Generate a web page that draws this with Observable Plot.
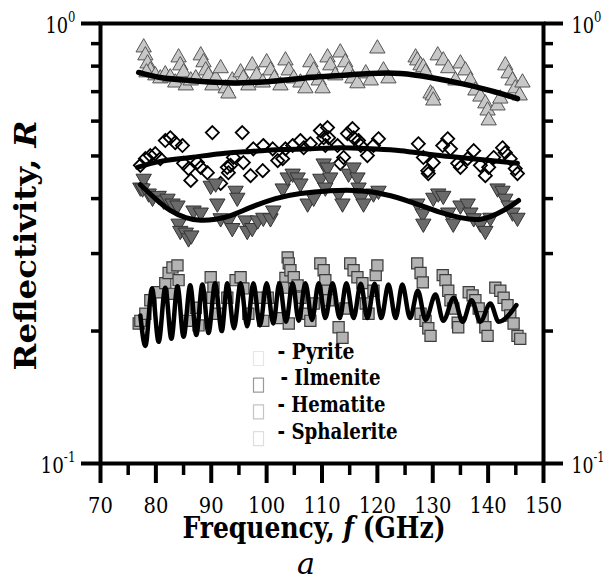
<!DOCTYPE html>
<html>
<head>
<meta charset="utf-8">
<script src="https://cdn.jsdelivr.net/npm/d3@7"></script>
<script src="https://cdn.jsdelivr.net/npm/@observablehq/plot@0.6"></script>
<style>
  html, body { margin: 0; padding: 0; background: #fff; }
  #chart svg, #chart svg text { font-family: "DejaVu Serif", serif; }
</style>
</head>
<body>
<div id="chart"></div>
<script>
// Measured reflectivity of four minerals, 77–146 GHz sweep
const pyriteF = [77.8,78.1,78.5,79.0,78.3,79.9,80.8,81.7,82.6,83.5,84.1,84.4,85.0,85.4,86.3,87.2,88.1,88.6,89.0,89.5,90.2,90.8,91.7,92.6,93.1,93.8,95.3,95.8,96.7,97.4,98.2,99.3,100.0,100.7,101.4,102.5,103.4,104.0,104.9,106.1,107.0,107.9,108.5,109.4,110.1,111.0,111.5,112.4,113.3,114.2,114.8,115.5,116.4,117.9,118.8,120.0,121.1,122.0,126.9,127.2,127.8,128.3,128.7,129.6,130.0,130.1,130.9,131.9,132.8,134.1,135.0,135.9,136.8,137.7,138.6,139.5,139.9,140.1,141.7,142.2,143.1,143.7,144.4,144.9,145.7,146.2];
const pyriteR = [0.882,0.846,0.811,0.782,0.774,0.762,0.750,0.766,0.754,0.734,0.837,0.803,0.774,0.723,0.742,0.750,0.846,0.816,0.782,0.762,0.723,0.750,0.791,0.712,0.693,0.742,0.774,0.750,0.723,0.803,0.762,0.734,0.816,0.782,0.750,0.723,0.824,0.782,0.750,0.734,0.712,0.816,0.782,0.742,0.712,0.837,0.803,0.762,0.859,0.816,0.782,0.750,0.731,0.770,0.742,0.877,0.782,0.750,0.837,0.824,0.803,0.795,0.774,0.693,0.686,0.668,0.846,0.824,0.791,0.742,0.811,0.782,0.742,0.704,0.682,0.658,0.634,0.602,0.651,0.675,0.803,0.770,0.742,0.712,0.686,0.734];

const ilmeniteF = [77.2,78.1,79.0,79.9,80.8,81.7,82.6,83.5,84.8,85.0,85.9,86.3,87.5,88.1,89.3,90.2,91.7,92.9,93.1,93.5,94.0,95.6,95.8,97.1,97.6,99.3,99.4,101.1,102.0,102.9,103.4,104.7,106.1,106.7,107.9,109.7,110.3,111.0,111.2,110.6,112.8,113.3,113.9,114.6,115.5,115.7,116.6,117.0,118.2,119.3,120.2,127.4,128.3,129.1,129.2,130.1,131.8,132.7,133.2,134.5,135.0,136.3,137.4,138.6,139.5,140.1,141.0,142.6,143.1,144.0,144.9,145.3];
const ilmeniteR = [0.476,0.493,0.501,0.506,0.493,0.542,0.550,0.536,0.528,0.481,0.468,0.440,0.483,0.471,0.458,0.565,0.433,0.471,0.458,0.476,0.496,0.565,0.483,0.451,0.519,0.463,0.528,0.519,0.488,0.493,0.519,0.528,0.542,0.522,0.533,0.571,0.550,0.580,0.550,0.528,0.528,0.481,0.496,0.562,0.577,0.550,0.542,0.528,0.501,0.528,0.547,0.533,0.496,0.463,0.456,0.483,0.528,0.547,0.519,0.481,0.471,0.493,0.514,0.476,0.451,0.471,0.496,0.522,0.509,0.493,0.468,0.456];

const hematiteF = [77.2,77.8,77.6,78.7,79.4,80.5,81.4,82.1,83.0,83.9,84.1,84.4,85.4,85.9,86.4,86.8,88.1,89.9,90.8,91.1,91.7,93.1,93.8,94.4,94.7,96.2,96.5,97.4,98.4,99.4,100.7,101.2,102.9,103.8,104.7,105.6,106.1,107.4,108.5,109.7,110.3,111.0,111.5,110.6,113.0,113.7,114.8,115.7,116.4,116.6,117.0,117.5,119.3,120.2,127.2,128.2,128.3,130.1,131.0,131.9,132.8,133.7,135.0,136.3,136.8,137.4,138.6,139.5,140.4,141.7,142.6,143.1,143.7,144.4,145.3];
const hematiteR = [0.424,0.444,0.422,0.411,0.402,0.406,0.396,0.400,0.390,0.386,0.351,0.338,0.335,0.325,0.330,0.376,0.372,0.428,0.433,0.390,0.361,0.357,0.343,0.417,0.402,0.357,0.338,0.343,0.357,0.362,0.361,0.376,0.422,0.447,0.456,0.447,0.433,0.390,0.402,0.444,0.481,0.471,0.447,0.424,0.411,0.390,0.456,0.471,0.447,0.424,0.402,0.390,0.411,0.417,0.390,0.370,0.351,0.402,0.411,0.406,0.372,0.351,0.386,0.390,0.372,0.361,0.351,0.338,0.362,0.422,0.417,0.400,0.386,0.372,0.362];

const sphaleriteF = [76.9,77.2,78.1,79.0,80.3,81.7,82.3,83.0,83.9,84.1,83.2,85.7,87.2,87.7,89.9,90.4,90.2,91.1,92.9,94.4,95.3,95.8,96.7,98.4,99.4,100.2,102.5,103.4,103.0,103.8,104.0,104.3,104.9,105.6,106.1,104.0,107.4,107.9,108.5,109.7,110.3,110.6,111.0,111.2,113.0,113.7,114.2,115.1,115.7,116.4,117.3,117.9,118.4,119.3,119.7,120.0,127.2,127.8,128.2,127.8,128.7,129.2,129.6,131.8,132.3,132.8,133.2,133.7,134.5,134.6,136.5,137.2,137.7,138.3,139.0,139.5,139.9,141.3,142.2,142.8,143.5,144.0,144.6,145.3,145.8];
const sphaleriteR = [0.208,0.211,0.219,0.235,0.245,0.257,0.271,0.279,0.282,0.261,0.243,0.211,0.226,0.206,0.265,0.251,0.238,0.219,0.238,0.261,0.265,0.250,0.219,0.238,0.211,0.238,0.214,0.264,0.251,0.294,0.285,0.275,0.265,0.254,0.238,0.208,0.219,0.211,0.231,0.285,0.275,0.261,0.247,0.235,0.204,0.193,0.225,0.285,0.275,0.265,0.257,0.231,0.219,0.247,0.268,0.282,0.285,0.271,0.258,0.219,0.211,0.203,0.195,0.268,0.261,0.247,0.235,0.225,0.209,0.204,0.245,0.241,0.235,0.225,0.215,0.204,0.195,0.251,0.247,0.238,0.229,0.217,0.208,0.195,0.192];

// Fitted curves
const pyriteFitF = [76.9,80.8,86.3,91.7,97.1,102.5,107.9,113.3,118.8,124.2,129.6,135.0,140.4,145.3];
const pyriteFitR = [0.774,0.754,0.742,0.734,0.734,0.742,0.754,0.762,0.770,0.770,0.754,0.731,0.704,0.675];

const ilmeniteFitF = [76.7,80.8,86.3,91.7,97.1,102.5,107.9,113.3,118.8,124.2,129.6,135.0,140.4,145.3];
const ilmeniteFitR = [0.471,0.486,0.496,0.506,0.512,0.517,0.519,0.522,0.519,0.514,0.504,0.496,0.488,0.481];

const hematiteFitF = [77.2,79.9,82.6,85.4,88.1,90.8,93.5,97.1,101.6,106.1,111.5,117.0,122.4,127.8,131.4,135.0,138.6,141.7,144.0,145.5];
const hematiteFitR = [0.430,0.400,0.376,0.362,0.357,0.359,0.366,0.382,0.400,0.411,0.417,0.417,0.406,0.386,0.372,0.362,0.359,0.370,0.384,0.396];

// Oscillating fit: successive troughs and crests
const sphaleriteFitF = [77.2,78.1,79.3,80.5,81.7,82.8,83.9,85.0,86.2,87.3,88.4,89.5,90.7,91.9,92.9,94.1,95.3,96.5,97.6,98.8,100.0,101.2,102.3,103.5,104.7,105.8,107.0,108.2,109.4,110.6,111.9,113.2,114.4,115.7,117.0,118.2,119.5,120.7,122.0,123.3,124.5,125.9,127.3,128.7,130.5,131.9,133.8,135.4,137.0,138.6,140.4,141.9,145.1];
const sphaleriteFitR = [0.217,0.185,0.250,0.189,0.251,0.192,0.253,0.194,0.254,0.196,0.255,0.198,0.257,0.200,0.257,0.203,0.257,0.205,0.257,0.206,0.257,0.208,0.257,0.210,0.257,0.211,0.257,0.212,0.257,0.214,0.257,0.214,0.257,0.214,0.256,0.214,0.256,0.214,0.255,0.214,0.255,0.214,0.247,0.212,0.242,0.211,0.238,0.210,0.235,0.210,0.231,0.210,0.229];

// Axis ticks
const xTicks = [70, 80, 90, 100, 110, 120, 130, 140, 150];
const xMinorTicks = [75, 85, 95, 105, 115, 125, 135, 145];
const yTicks = [0.1, 1];
const yTickLabels = ["10^-1", "10^0"];
const yMinorTicks = [0.2, 0.3, 0.4, 0.5, 0.6, 0.7, 0.8, 0.9];

// Legend
const legendNames = ["Pyrite", "Ilmenite", "Hematite", "Sphalerite"];
const legendBoxColors = ["#e6e6e6", "#9a9a9a", "#c4c4c4", "#dedede"];

const rows = (F, R) => F.map((f, i) => ({f, R: R[i]}));
const pyrite = rows(pyriteF, pyriteR);
const ilmenite = rows(ilmeniteF, ilmeniteR);
const hematite = rows(hematiteF, hematiteR);
const sphalerite = rows(sphaleriteF, sphaleriteR);

// Downward-pointing triangle symbol
const sqrt3 = Math.sqrt(3);
const triangleDown = {
  draw(context, size) {
    const y = -Math.sqrt(size / (sqrt3 * 3));
    context.moveTo(0, -y * 2);
    context.lineTo(-sqrt3 * y, y);
    context.lineTo(sqrt3 * y, y);
    context.closePath();
  }
};
// Small upright rectangle used as an empty legend key
const keyBox = {
  draw(context) {
    context.rect(-5, -7, 10, 14);
  }
};

const yLabelFormat = d => yTickLabels[yTicks.indexOf(d)];
const blank = () => "";

const marks = [
  // data points
  Plot.dot(pyrite, {x: "f", y: "R", symbol: "triangle", r: 5.7, fill: "#c8c8c8", stroke: "#555", strokeWidth: 1}),
  Plot.dot(ilmenite, {x: "f", y: "R", symbol: "diamond2", r: 5.9, fill: "none", stroke: "#000", strokeWidth: 1.8}),
  Plot.dot(hematite, {x: "f", y: "R", symbol: triangleDown, r: 5.7, fill: "#6a6a6a", stroke: "#333", strokeWidth: 1}),
  Plot.dot(sphalerite, {x: "f", y: "R", symbol: "square", r: 6.3, fill: "#b3b3b3", stroke: "#3c3c3c", strokeWidth: 1.2}),
  // fitted curves
  Plot.line(rows(pyriteFitF, pyriteFitR), {x: "f", y: "R", curve: "natural", stroke: "#000", strokeWidth: 5.5}),
  Plot.line(rows(ilmeniteFitF, ilmeniteFitR), {x: "f", y: "R", curve: "natural", stroke: "#000", strokeWidth: 5}),
  Plot.line(rows(hematiteFitF, hematiteFitR), {x: "f", y: "R", curve: "natural", stroke: "#000", strokeWidth: 5}),
  Plot.line(rows(sphaleriteFitF, sphaleriteFitR), {x: "f", y: "R", curve: "monotone-x", stroke: "#000", strokeWidth: 4.5}),
  // frame and ticks
  Plot.frame({stroke: "#000", strokeWidth: 4}),
  Plot.axisX({ticks: xTicks, tickSize: 20, tickFormat: blank, strokeWidth: 4, label: null}),
  Plot.axisX({ticks: xMinorTicks, tickSize: 12, tickFormat: blank, strokeWidth: 3.5, label: null}),
  Plot.axisX({ticks: xTicks, tickSize: 0, tickPadding: 33, fontSize: 23, label: null, className: "xlab"}),
  Plot.axisY({anchor: "left", ticks: yTicks, tickSize: 19, tickFormat: blank, strokeWidth: 4, label: null}),
  Plot.axisY({anchor: "left", ticks: yMinorTicks, tickSize: 9, tickFormat: blank, strokeWidth: 3.5, label: null}),
  Plot.axisY({anchor: "left", ticks: yTicks, tickSize: 0, tickPadding: 25, dy: 2, tickFormat: yLabelFormat, fontSize: 23, label: null, className: "ylabL"}),
  Plot.axisY({anchor: "right", ticks: yTicks, tickSize: 19, tickFormat: blank, strokeWidth: 4, label: null}),
  Plot.axisY({anchor: "right", ticks: yMinorTicks, tickSize: 9, tickFormat: blank, strokeWidth: 3.5, label: null}),
  Plot.axisY({anchor: "right", ticks: yTicks, tickSize: 0, tickPadding: 28, dy: 2, tickFormat: yLabelFormat, fontSize: 23, label: null, className: "ylabR"}),
  // axis titles and panel letter
  Plot.text(["Frequency, _f_ (GHz)"], {text: d => d, frameAnchor: "bottom", textAnchor: "middle", dx: -8, dy: 74, fontSize: 30, fontWeight: "bold", className: "xtitle"}),
  Plot.text(["Reflectivity, _R_"], {text: d => d, frameAnchor: "left", textAnchor: "middle", dx: -74, dy: 2, rotate: -90, fontSize: 30, fontWeight: "bold", className: "ytitle"}),
  Plot.text(["a"], {text: d => d, frameAnchor: "bottom", textAnchor: "middle", dx: -16, dy: 110, fontSize: 30, fontStyle: "italic", className: "panel"}),
  // legend
  ...legendNames.flatMap((name, i) => [
    Plot.dot([name], {frameAnchor: "bottom-left", dx: 158, dy: -105 + i * 26.7, symbol: keyBox, fill: "none", stroke: legendBoxColors[i], strokeWidth: 1.2}),
    Plot.text([`- ${name}`], {text: d => d, frameAnchor: "bottom-left", dx: name === "Ilmenite" ? 180 : 177, dy: -105 + i * 26.7, textAnchor: "start", fontSize: 22, fontWeight: "bold", className: "legend"})
  ])
];

const chart = Plot.plot({
  width: 611,
  height: 587,
  marginLeft: 100,
  marginRight: 68,
  marginTop: 23,
  marginBottom: 124,
  style: {fontFamily: "DejaVu Serif, serif", fontSize: "23px", color: "#000", background: "#fff", overflow: "visible"},
  x: {domain: [70, 150]},
  y: {type: "log", domain: [0.1, 1]},
  marks
});

// Drop empty tick labels; add superscript exponents (a^b) and italic symbols (_x_)
const SVGNS = "http://www.w3.org/2000/svg";
chart.querySelectorAll("text").forEach(t => {
  const s = t.textContent;
  if (s === "") {
    t.remove();
  } else if (s.includes("^")) {
    const [base, sup] = s.split("^");
    t.textContent = base;
    const ts = document.createElementNS(SVGNS, "tspan");
    ts.setAttribute("dy", "-11");
    ts.setAttribute("font-size", "15");
    ts.textContent = sup;
    t.appendChild(ts);
  } else if (s.includes("_")) {
    const parts = s.split("_");
    t.textContent = "";
    parts.forEach((p, i) => {
      if (!p) return;
      const ts = document.createElementNS(SVGNS, "tspan");
      if (i % 2 === 1) ts.setAttribute("font-style", "italic");
      ts.textContent = p;
      t.appendChild(ts);
    });
  }
});

// Set-width typesetting so the wide serif face keeps the classic Times proportions
const fitWidth = (t, len) => {
  t.setAttribute("textLength", len);
  t.setAttribute("lengthAdjust", "spacingAndGlyphs");
};
const widthOf = {
  xlab: t => 12.4 * t.textContent.length,
  ylabL: t => (t.textContent.includes("-") ? 35 : 30),
  ylabR: t => (t.textContent.includes("-") ? 33 : 30),
  xtitle: () => 263,
  ytitle: () => 250,
  panel: () => 18,
  legend: t => ({"- Pyrite": 77, "- Ilmenite": 100, "- Hematite": 108, "- Sphalerite": 120})[t.textContent]
};
for (const [cls, w] of Object.entries(widthOf)) {
  chart.querySelectorAll(`.${cls} text`).forEach(t => fitWidth(t, w(t)));
}

document.getElementById("chart").appendChild(chart);
</script>
</body>
</html>
